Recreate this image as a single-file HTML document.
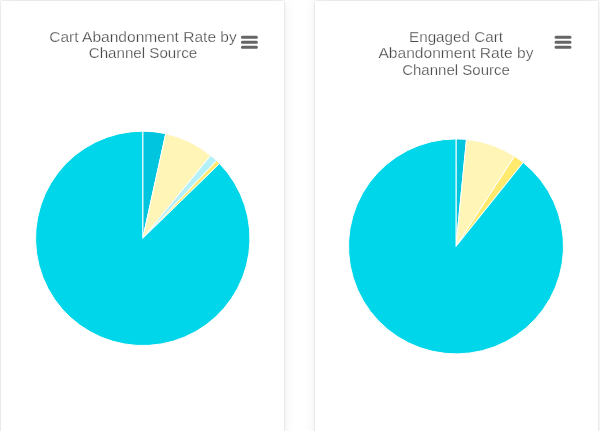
<!DOCTYPE html>
<html><head><meta charset="utf-8"><style>
html,body{margin:0;padding:0;width:600px;height:431px;overflow:hidden;background:#fff;position:relative}
.card{position:absolute;top:1px;height:460px;background:#fff;box-shadow:0 0 2px rgba(0,0,0,.17),0 0 12px rgba(0,0,0,.07);}
#c1{left:1px;width:283px;}
#c2{left:315px;width:283px;}
.t{position:absolute;text-align:center;font-family:"Liberation Sans",sans-serif;font-size:14px;line-height:16.5px;color:#474747;white-space:nowrap;transform-origin:50% 50%;will-change:transform;-webkit-text-stroke:0.25px #fff}
svg{position:absolute;left:0;top:0}
</style></head><body>
<div class="card" id="c1"></div>
<div class="card" id="c2"></div>
<svg width="600" height="431" viewBox="0 0 600 431">
<g stroke="#fff" stroke-width="1" stroke-linejoin="round">
<path d="M142.75 238.35L142.75 131.15A107.2 107.2 0 0 1 165.77 133.65Z" fill="#00c5de"/>
<path d="M142.75 238.35L165.77 133.65A107.2 107.2 0 0 1 210.72 155.45Z" fill="#fff5b6"/>
<path d="M142.75 238.35L210.72 155.45A107.2 107.2 0 0 1 216.61 160.65Z" fill="#b3f0f7"/>
<path d="M142.75 238.35L216.61 160.65A107.2 107.2 0 0 1 219.54 163.55Z" fill="#ffea6e"/>
<path d="M142.75 238.35L219.54 163.55A107.2 107.2 0 1 1 142.75 131.15Z" fill="#00d6e9"/>
<path d="M456.00 246.40L456.00 138.90A107.5 107.5 0 0 1 466.49 139.41Z" fill="#00c5de"/>
<path d="M456.00 246.40L466.49 139.41A107.5 107.5 0 0 1 514.55 156.24Z" fill="#fff5b6"/>
<path d="M456.00 246.40L514.55 156.24A107.5 107.5 0 0 1 523.21 162.50Z" fill="#ffea6e"/>
<path d="M456.00 246.40L523.21 162.50A107.5 107.5 0 1 1 456.00 138.90Z" fill="#00d6e9"/>
</g>
<g stroke="#666" stroke-width="3" stroke-linecap="round" fill="none">
<path d="M242.4 37.2H256.4M242.4 42.2H256.4M242.4 47.2H256.4"/>
<path d="M556.0 37.2H570.0M556.0 42.2H570.0M556.0 47.2H570.0"/>
</g>
</svg>
<div class="t" style="left:143.0px;top:28.9px;transform:translateX(-50%) scaleX(1.1107)">Cart Abandonment Rate by</div>
<div class="t" style="left:142.95px;top:45.2px;transform:translateX(-50%) scaleX(1.0810)">Channel Source</div>
<div class="t" style="left:456.0px;top:28.7px;transform:translateX(-50%) scaleX(1.0880)">Engaged Cart</div>
<div class="t" style="left:456.3px;top:44.5px;transform:translateX(-50%) scaleX(1.1137)">Abandonment Rate by</div>
<div class="t" style="left:456.2px;top:61.7px;transform:translateX(-50%) scaleX(1.0727)">Channel Source</div>
</body></html>
